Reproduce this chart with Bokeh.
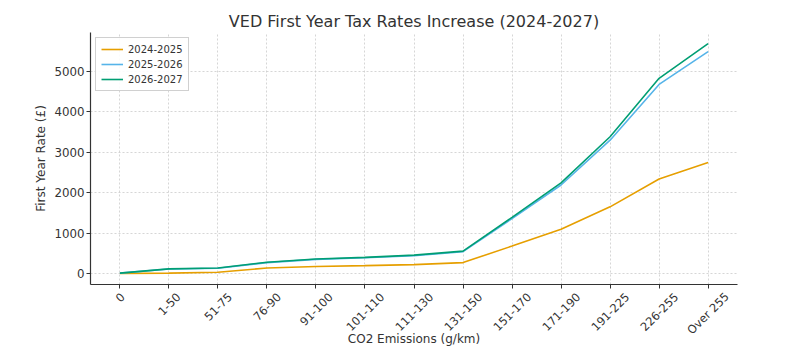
from bokeh.plotting import figure
from bokeh.layouts import column
from bokeh.models import FixedTicker, Legend, LegendItem, Range1d, ColumnDataSource
from bokeh.core.properties import value
from bokeh.embed import file_html
from bokeh.resources import INLINE
import math

categories = ["0", "1-50", "51-75", "76-90", "91-100", "101-110", "111-130",
              "131-150", "151-170", "171-190", "191-225", "226-255", "Over 255"]
rates_2024_2025 = [0, 10, 30, 135, 175, 195, 220, 270, 680, 1095, 1650, 2340, 2745]
rates_2025_2026 = [10, 110, 130, 270, 350, 390, 440, 540, 1360, 2190, 3300, 4680, 5490]
rates_2026_2027 = [10, 115, 135, 280, 360, 400, 455, 555, 1390, 2245, 3385, 4830, 5690]
series = [("2024-2025", rates_2024_2025, "#E69F00"),
          ("2025-2026", rates_2025_2026, "#56B4E9"),
          ("2026-2027", rates_2026_2027, "#009E73")]
x_title = "CO2 Emissions (g/km)"
y_title = "First Year Rate (£)"

FONT = "DejaVu Sans"
TXT = "#333333"
xs = list(range(len(categories)))
Y_MIN, Y_MAX = -272, 5965
MAIN_H, LAB_H = 291, 56
TICK_FS = 11.5

p = figure(width=787, height=MAIN_H, output_backend="svg", toolbar_location=None,
           x_range=Range1d(-0.6, 12.6), y_range=Range1d(Y_MIN, Y_MAX),
           min_border_left=90, min_border_right=50, min_border_top=32, min_border_bottom=7)

p.title.text = "VED First Year Tax Rates Increase (2024-2027)"
p.title.text_font = FONT
p.title.text_font_size = "16px"
p.title.text_font_style = "normal"
p.title.text_color = TXT
p.title.align = "center"
p.title.standoff = 4

items = []
for name, vals, color in series:
    src = ColumnDataSource(dict(x=xs, y=vals))
    r = p.line("x", "y", source=src, line_color=color, line_width=1.6)
    items.append(LegendItem(label=name, renderers=[r]))

legend = Legend(items=items, location="top_left")
legend.label_text_font = FONT
legend.label_text_font_size = "10px"
legend.label_text_color = TXT
legend.label_height = 12
legend.glyph_height = 12
legend.glyph_width = 22
legend.spacing = 3
legend.padding = 5
legend.margin = 5
legend.border_line_color = "#d0d0d0"
legend.border_line_alpha = 1
legend.background_fill_alpha = 0.9
p.add_layout(legend)

p.xaxis.ticker = FixedTicker(ticks=xs)
p.xaxis.major_label_overrides = {i: "" for i in xs}
p.yaxis.ticker = FixedTicker(ticks=[0, 1000, 2000, 3000, 4000, 5000])

for ax in (p.xaxis[0], p.yaxis[0]):
    ax.axis_line_color = TXT
    ax.axis_line_width = 1.2
    ax.major_tick_line_color = TXT
    ax.major_tick_out = 4
    ax.major_tick_in = 0
    ax.minor_tick_line_color = None
    ax.major_label_text_font = FONT
    ax.major_label_text_color = TXT
    ax.axis_label_text_font = FONT
    ax.axis_label_text_font_size = "12px"
    ax.axis_label_text_font_style = "normal"
    ax.axis_label_text_color = TXT

p.xaxis.major_label_text_font_size = "1px"
p.xaxis.major_label_standoff = 0
p.yaxis.major_label_text_font_size = "11.8px"
p.yaxis.major_label_standoff = 2
p.yaxis.axis_label = y_title
p.yaxis.axis_label_standoff = 3

p.xgrid.grid_line_color = "#cccccc"
p.ygrid.grid_line_color = "#cccccc"
p.xgrid.grid_line_dash = "2 2"
p.ygrid.grid_line_dash = "2 2"
p.xgrid.grid_line_alpha = 0.8
p.ygrid.grid_line_alpha = 0.8
p.outline_line_color = None

# strip below: rotated category labels centred on ticks, plus x-axis title
p2 = figure(width=787, height=LAB_H, output_backend="svg", toolbar_location=None,
            x_range=p.x_range, y_range=Range1d(0, LAB_H),
            x_axis_type=None, y_axis_type=None,
            min_border_left=90, min_border_right=50, min_border_top=0, min_border_bottom=0)
p2.grid.visible = False
p2.outline_line_color = None

def text_width(s, size=TICK_FS):
    em = {"-": 0.361, " ": 0.318, "O": 0.787, "v": 0.592, "e": 0.615, "r": 0.411}
    return size * sum(0.636 if ch.isdigit() else em.get(ch, 0.6) for ch in s)

label_y = [LAB_H + 1 - (text_width(c) + TICK_FS) * 0.7071 / 2 for c in categories]
lab_src = ColumnDataSource(dict(x=xs, y=label_y, text=categories))
p2.text("x", "y", text="text", source=lab_src, angle=math.pi / 4,
        text_align="center", text_baseline="middle",
        text_font=value(FONT), text_font_size=f"{TICK_FS}px", text_color=TXT)

mid_x = (p.x_range.start + p.x_range.end) / 2
p2.text(x=[mid_x], y=[9], text=[x_title], text_align="center", text_baseline="middle",
        text_font=value(FONT), text_font_size="12px", text_color=TXT)

open("out.html", "w").write(file_html(column(p, p2, spacing=0), INLINE))
